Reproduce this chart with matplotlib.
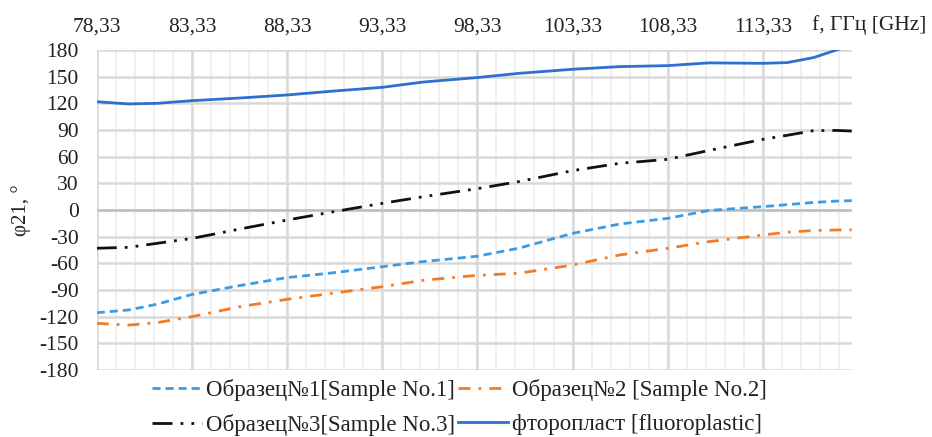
import matplotlib
matplotlib.use("Agg")
import matplotlib.pyplot as plt
import numpy as np

# ---- data ----
freq = [78.33, 80.0, 81.5, 83.33, 85.85, 88.33, 90.6, 93.33, 95.5, 98.33,
        100.5, 103.33, 105.8, 108.33, 110.5, 113.33, 114.6, 116.0, 117.2, 118.0]
sample1 = [-115.5, -112.5, -106, -95, -85, -76, -71, -63.8, -58, -52,
           -43, -26.3, -15.8, -9.4, -0.5, 3.8, 6, 8.5, 10, 10.5]
sample2 = [-127.5, -129.5, -126.7, -120, -108.8, -100.5, -94, -86.3, -79, -73.5,
           -71.2, -61.9, -50.6, -43.1, -35.6, -28.1, -25, -23, -22.5, -22.3]
sample3 = [-43, -42, -37.5, -32, -21.4, -11.3, -2.6, 7.5, 15, 24,
           31.9, 44.3, 52.5, 57, 67, 79.5, 84, 89.3, 89.5, 88.8]
fluoro = [121.8, 119.3, 120, 123, 126, 129.4, 133.5, 138, 144, 149,
          153.7, 158.3, 161.3, 162.4, 165.5, 165, 165.8, 171.5, 180, 185]

labels = ["Образец№1[Sample No.1]", "Образец№2 [Sample No.2]",
          "Образец№3[Sample No.3]", "фторопласт [fluoroplastic]"]
xticks = [78.33, 83.33, 88.33, 93.33, 98.33, 103.33, 108.33, 113.33]
yticks = list(range(-180, 181, 30))

plt.rcParams['font.family'] = ['Liberation Serif', 'DejaVu Serif']
plt.rcParams['lines.scale_dashes'] = False

fig = plt.figure(figsize=(9.32, 4.37), dpi=100)
ax = fig.add_axes([0.1038, 0.1533, 0.9139 - 0.1038, 0.8856 - 0.1533])

xmin, xmax = 78.33, 118.0
ax.set_xlim(xmin, xmax)
ax.set_ylim(-180, 180)

# grid
minor = np.arange(xmin, xmax + 1e-6, 1.0)
for xv in minor:
    ax.axvline(xv, color='#EFEFEF', lw=1.3, zorder=0)
for xv in xticks:
    ax.axvline(xv, color='#D9D9D9', lw=1.8, zorder=0.5)
for yv in yticks:
    ax.axhline(yv, color='#D9D9D9', lw=1.8, zorder=0.5)
ax.axhline(0, color='#BFBFBF', lw=1.8, zorder=0.6)

lw = 2.0
l1, = ax.plot(freq, sample1, color='#3C9BE3', lw=lw, linestyle=(0, (5.8, 3.6)), label=labels[0])
l2, = ax.plot(freq, sample2, color='#F47B22', lw=lw, linestyle=(0, (8.6, 5.8, 2, 5.8)), label=labels[1])
l3, = ax.plot(freq, sample3, color='#111111', lw=lw,
              linestyle=(0, (14.4, 5.8, 2, 5.8, 2, 5.8)), label=labels[2])
l4, = ax.plot(freq, fluoro, color='#2F6FCF', lw=lw, linestyle='-', label=labels[3])

for s in ax.spines.values():
    s.set_visible(False)

ax.set_xticks(xticks)
ax.set_xticklabels([f"{v:.2f}".replace('.', ',') for v in xticks])
ax.xaxis.tick_top()
ax.set_yticks(yticks)
ax.set_yticklabels([str(v) for v in yticks])
ax.tick_params(axis='both', length=0, labelsize=15.5, colors='#222222')
ax.tick_params(axis='x', pad=10)
ax.tick_params(axis='y', pad=13)

ax.set_ylabel("φ21, °", fontsize=15, color='#222222', labelpad=6)
fig.text(0.9935, 0.943, "f, ГГц [GHz]", ha='right', va='center', fontsize=15.5, color='#222222')

handles = [l1, l3, l2, l4]
leg = fig.legend(handles, [h.get_label() for h in handles], loc='upper center',
                 bbox_to_anchor=(0.493, 0.165), ncol=2, frameon=False,
                 fontsize=16.5, handlelength=2.17, handletextpad=0.17,
                 columnspacing=0.15, labelspacing=0.6, borderpad=0.1)
for t in leg.get_texts():
    t.set_color('#222222')

fig.savefig("out.png", dpi=100)
